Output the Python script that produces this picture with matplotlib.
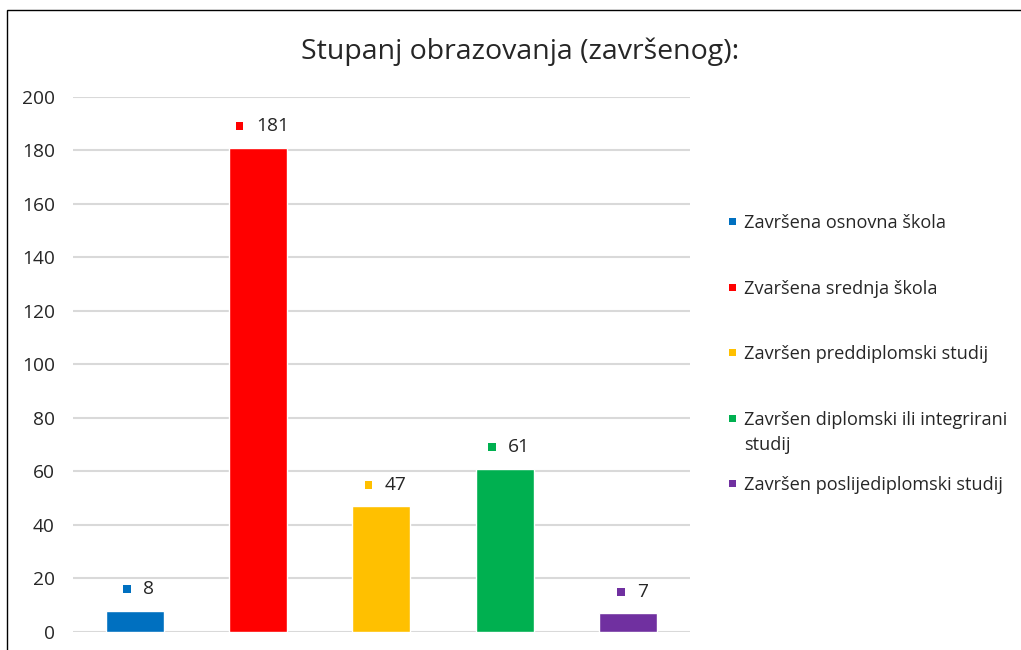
import matplotlib

matplotlib.use("Agg")
import matplotlib.pyplot as plt
from matplotlib.patches import Rectangle
from matplotlib.offsetbox import AnnotationBbox, DrawingArea, HPacker, TextArea

plt.rcParams["font.family"] = ["Open Sans", "DejaVu Sans"]

# --- data ------------------------------------------------------------------ #
TITLE = "Stupanj obrazovanja (završenog):"
CATEGORIES = [
    "Završena osnovna škola",
    "Zvaršena srednja škola",
    "Završen preddiplomski studij",
    "Završen diplomski ili integrirani\nstudij",
    "Završen poslijediplomski studij",
]
VALUES = [8, 181, 47, 61, 7]
COLORS = ["#0070C0", "#FF0000", "#FFC000", "#00B050", "#7030A0"]
Y_TICKS = list(range(0, 201, 20))

TEXT_COLOR = "#262626"
GRID_COLOR = "#D9D9D9"

W, H = 1021, 650
fig = plt.figure(figsize=(W / 100, H / 100), dpi=100)
ax = fig.add_axes([0.0715, 0.0277, 0.6043, 0.8231])

x = list(range(len(VALUES)))
ax.bar(x, VALUES, width=0.47, color=COLORS, edgecolor="white", linewidth=1.0, zorder=3)

ax.set_xlim(-0.5, len(VALUES) - 0.5)
ax.set_ylim(0, 200)
ax.set_yticks(Y_TICKS)
ax.set_xticks([])
ax.yaxis.grid(True, color=GRID_COLOR, linewidth=1.5, zorder=0)
ax.set_axisbelow(True)
for s in ax.spines.values():
    s.set_visible(False)
ax.tick_params(axis="y", length=0, pad=13, labelsize=13.8, labelcolor=TEXT_COLOR)

# data labels: small colour key + value, centred above each bar
for xi, v, c in zip(x, VALUES, COLORS):
    da = DrawingArea(5.5, 5.5, 0, 0)
    da.add_artist(Rectangle((0, 0), 5.5, 5.5, facecolor=c, edgecolor="none"))
    ta = TextArea(str(v), textprops=dict(fontsize=13.8, color=TEXT_COLOR))
    box = HPacker(children=[da, ta], align="center", pad=0, sep=9)
    ab = AnnotationBbox(box, (xi, v), xybox=(3, 15.5), xycoords="data",
                        boxcoords="offset points", frameon=False,
                        box_alignment=(0.5, 0.5), annotation_clip=False)
    ax.add_artist(ab)

fig.text(0.509, 0.921, TITLE, ha="center", va="center", fontsize=20.5, color=TEXT_COLOR)

# legend, laid out Excel-style: entries evenly spaced by their first baseline
first_base, step, line_h = 228, 65.5, 25
for i, (label, c) in enumerate(zip(CATEGORIES, COLORS)):
    base = first_base + step * i
    # va="baseline" pins the last line, so push multi-line labels down
    last_base = base + line_h * label.count("\n")
    fig.patches.append(Rectangle((729 / W, 1 - (base - 3) / H), 7 / W, 7 / H,
                                 transform=fig.transFigure, facecolor=c, edgecolor="none"))
    fig.text(744 / W, 1 - last_base / H, label, ha="left", va="baseline", fontsize=13.1,
             color=TEXT_COLOR, linespacing=1.45)

# outer chart border (right/bottom edges fall outside the picture)
fig.patches.append(Rectangle((7 / W, -0.1), 1.2, 1.1 - 10 / H, transform=fig.transFigure,
                             fill=False, edgecolor="black", linewidth=1.0))

fig.savefig("out.png", dpi=100)
